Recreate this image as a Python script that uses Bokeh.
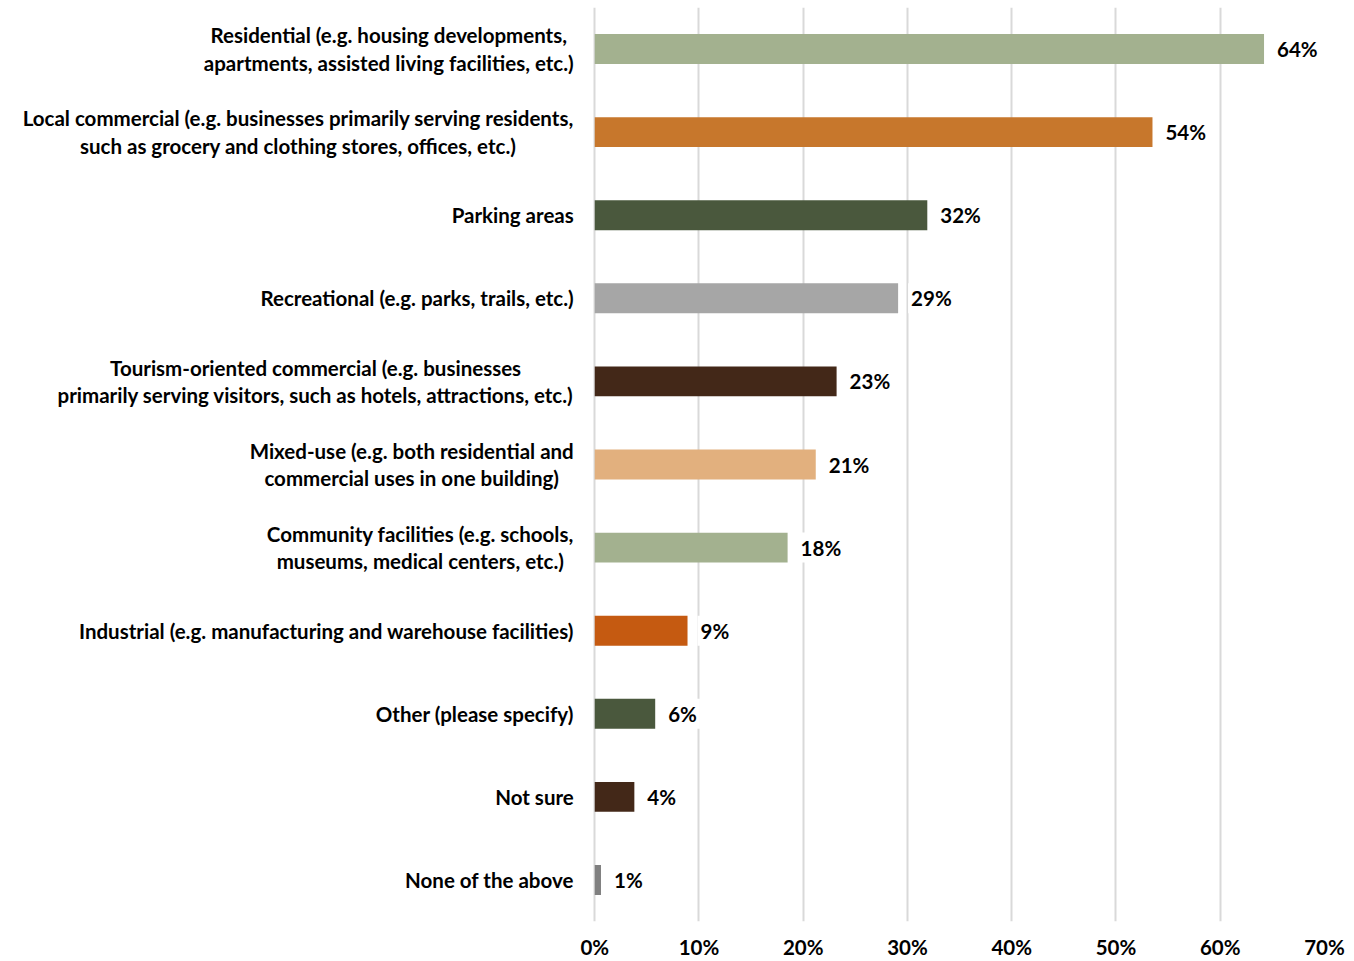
from bokeh.plotting import figure
from bokeh.models import ColumnDataSource, FactorRange, Range1d, FixedTicker
from bokeh.core.properties import value
from bokeh.embed import file_html
from bokeh.resources import INLINE

categories = [
    "Residential (e.g. housing developments,\napartments, assisted living facilities, etc.)",
    "Local commercial (e.g. businesses primarily serving residents,\nsuch as grocery and clothing stores, offices, etc.)",
    "Parking areas",
    "Recreational (e.g. parks, trails, etc.)",
    "Tourism-oriented commercial (e.g. businesses\nprimarily serving visitors, such as hotels, attractions, etc.)",
    "Mixed-use (e.g. both residential and\ncommercial uses in one building)",
    "Community facilities (e.g. schools,\nmuseums, medical centers, etc.)",
    "Industrial (e.g. manufacturing and warehouse facilities)",
    "Other (please specify)",
    "Not sure",
    "None of the above",
]
values = [64.2, 53.5, 31.9, 29.1, 23.2, 21.2, 18.5, 8.9, 5.8, 3.8, 0.6]
value_labels = ["64%", "54%", "32%", "29%", "23%", "21%", "18%", "9%", "6%", "4%", "1%"]
colors = ["#A3B18F", "#C7772C", "#4A583D", "#A6A6A6", "#432818",
          "#E2B07E", "#A3B18F", "#C55A11", "#4A583D", "#432818", "#808080"]
tick_values = [0, 10, 20, 30, 40, 50, 60, 70]
tick_labels = ["0%", "10%", "20%", "30%", "40%", "50%", "60%", "70%"]

src = ColumnDataSource(dict(cat=categories, val=values, lab=value_labels, color=colors))

p = figure(width=1354, height=961,
           x_range=Range1d(-57.0, 70), y_range=FactorRange(factors=categories[::-1]),
           output_backend="svg", toolbar_location=None,
           min_border_left=0, min_border_top=7, min_border_right=30, min_border_bottom=39)
p.outline_line_color = None
p.background_fill_color = "white"

p.hbar(y="cat", left=0, right="val", height=0.36, color="color", line_color=None, source=src)

font = value("Lato")
p.text(x="val", y="cat", text="lab", x_offset=10, text_align="left", text_baseline="middle",
       text_font=font, text_font_style="bold", text_font_size="20.5px", text_color="black",
       background_fill_color="white", padding=3, source=src)

p.text(x=0, y="cat", text="cat", x_offset=-21, anchor="center_right", text_align="center",
       text_baseline="middle", text_line_height=1.14,
       text_font=font, text_font_style="bold", text_font_size="20.5px", text_color="black",
       source=src)

p.yaxis.visible = False
p.ygrid.grid_line_color = None
p.xaxis.ticker = FixedTicker(ticks=tick_values)
p.xaxis.major_label_overrides = {v: l for v, l in zip(tick_values, tick_labels)}
p.xaxis.axis_line_color = None
p.xaxis.major_tick_line_color = None
p.xaxis.minor_tick_line_color = None
p.xaxis.major_tick_out = 0
p.xaxis.major_tick_in = 0
p.xaxis.major_label_standoff = 13
p.xaxis.major_label_text_font = "Lato"
p.xaxis.major_label_text_font_style = "bold"
p.xaxis.major_label_text_font_size = "20.5px"
p.xaxis.major_label_text_color = "black"
p.xgrid.grid_line_color = "#D9D9D9"
p.xgrid.grid_line_width = 2

open("out.html", "w").write(file_html(p, INLINE))
